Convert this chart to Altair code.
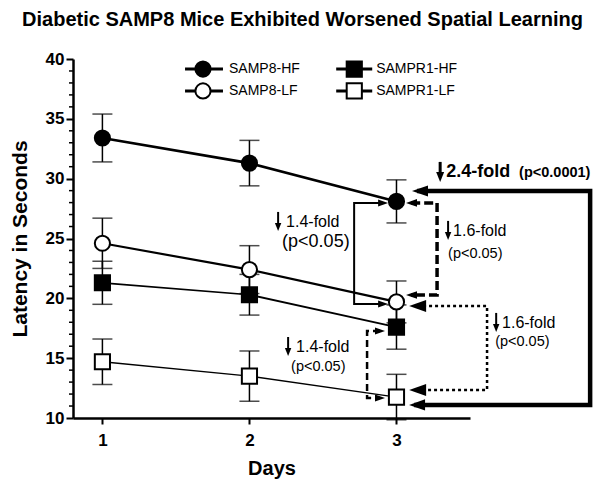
import altair as alt
import pandas as pd

F = "Liberation Sans"

# ---------------- data ----------------
days = [1, 2, 3]
series = ["SAMP8-HF", "SAMP8-LF", "SAMPR1-HF", "SAMPR1-LF"]
samp8_hf = [33.4, 31.3, 28.1]
samp8_lf = [24.6, 22.4, 19.7]
sampr1_hf = [21.3, 20.3, 17.6]
sampr1_lf = [14.7, 13.5, 11.75]
err_samp8_hf = [2.0, 1.9, 1.8]
err_samp8_lf = [2.1, 2.0, 1.75]
err_sampr1_hf = [1.8, 1.7, 1.85]
err_sampr1_lf = [1.9, 2.1, 1.9]
y_ticks = [10, 15, 20, 25, 30, 35, 40]
y_minor = [v for v in range(10, 41) if v % 5 != 0]
x_ticks = [1, 2, 3]
title_text = "Diabetic SAMP8 Mice Exhibited Worsened Spatial Learning"

means = [samp8_hf, samp8_lf, sampr1_hf, sampr1_lf]
errs = [err_samp8_hf, err_samp8_lf, err_sampr1_hf, err_sampr1_lf]

rows = []
for s, m_list, e_list in zip(series, means, errs):
    for d, m, e in zip(days, m_list, e_list):
        rows.append({"series": s, "day": d, "mean": m, "lo": m - e, "hi": m + e})
df = pd.DataFrame(rows)

# ---------------- scales ----------------
xs = alt.Scale(domain=[0.8, 3.5], nice=False, zero=False)
ys = alt.Scale(domain=[10, 40], nice=False, zero=False)
shape_scale = alt.Scale(domain=series, range=["circle", "circle", "square", "square"])
fill_scale = alt.Scale(domain=series, range=["black", "white", "black", "white"])
size_scale = alt.Scale(domain=series, range=[230, 230, 190, 190])
width_scale = alt.Scale(domain=series, range=[2.6, 1.3, 2.6, 1.3])

x_axis = alt.Axis(values=x_ticks, format="d", title="Days", grid=False,
                  domainColor="black", domainWidth=2.5, tickColor="black",
                  tickWidth=2, tickSize=6, labelFont=F, labelFontSize=17,
                  labelFontWeight="bold", labelColor="black", labelPadding=8,
                  titleFont=F, titleFontSize=20, titleFontWeight="bold",
                  titleColor="black", titlePadding=10)
y_axis = alt.Axis(values=y_ticks, format="d", title="Latency in Seconds",
                  grid=False, domainColor="black",
                  domainWidth=2.5, tickColor="black", tickWidth=2,
                  tickSize=7, labelFont=F, labelFontSize=17,
                  labelFontWeight="bold", labelColor="black",
                  labelPadding=2, titleFont=F, titleFontSize=21,
                  titleFontWeight="bold", titleColor="black",
                  titlePadding=15)


def X(field, axis=alt.Undefined):
    return alt.X(field, type="quantitative", scale=xs, axis=axis)


def Y(field, axis=alt.Undefined):
    return alt.Y(field, type="quantitative", scale=ys, axis=axis)


base = alt.Chart(df)

lines = base.mark_line(color="black").encode(
    x=X("day", x_axis), y=Y("mean", y_axis), detail="series:N",
    strokeWidth=alt.StrokeWidth("series:N", scale=width_scale, legend=None))

errbars = base.mark_errorbar(ticks=True, size=20, thickness=1.5, color="black",
                             orient="vertical").encode(
    x=X("day", x_axis), y=Y("lo", y_axis), y2="hi")

markers = base.mark_point(filled=True, stroke="black", strokeWidth=2, opacity=1).encode(
    x=X("day"), y=Y("mean"),
    shape=alt.Shape("series:N", scale=shape_scale, legend=None),
    fill=alt.Fill("series:N", scale=fill_scale, legend=None),
    size=alt.Size("series:N", scale=size_scale, legend=None))

# minor y ticks (axis decoration)
minor = alt.Chart(pd.DataFrame({"v": y_minor})).mark_rule(
    color="black", strokeWidth=1.5).encode(
    y=Y("v"), x=alt.value(-4), x2=alt.value(0))

# ---------------- hand-made legend (data units) ----------------
leg_col_marker = [1.684, 1.684, 2.713, 2.713]
leg_col_x1 = [1.562, 1.562, 2.590, 2.590]
leg_col_x2 = [1.820, 1.820, 2.835, 2.835]
leg_col_label = [1.861, 1.861, 2.862, 2.862]
leg_row_y = [39.16, 37.33, 39.16, 37.33]
leg = pd.DataFrame({"series": series, "xm": leg_col_marker, "x1": leg_col_x1,
                    "x2": leg_col_x2, "xl": leg_col_label, "y": leg_row_y})
lbase = alt.Chart(leg)
leg_lines = lbase.mark_rule(color="black", strokeWidth=3).encode(
    x=X("x1"), x2="x2", y=Y("y"))
leg_marks = lbase.mark_point(filled=True, stroke="black", strokeWidth=2, opacity=1).encode(
    x=X("xm"), y=Y("y"),
    shape=alt.Shape("series:N", scale=shape_scale, legend=None),
    fill=alt.Fill("series:N", scale=fill_scale, legend=None),
    size=alt.Size("series:N", scale=size_scale, legend=None))
leg_text = lbase.mark_text(align="left", baseline="middle", font=F, fontSize=14,
                           color="black").encode(x=X("xl"), y=Y("y"), text="series:N")

# ---------------- significance brackets (data units) ----------------
PATH_L = "M-1,0L1,-0.7L1,0.7Z"
PATH_R = "M1,0L-1,-0.7L-1,0.7Z"
PATH_D = "M0,1L-0.8,-1L0.8,-1Z"

brackets = [
    # path x, path y, stroke width, dash, arrow x, arrow y, arrow dir, arrow size
    ([3.14, 4.317, 4.317, 3.12], [28.97, 28.97, 11.09, 11.09], 4.5, None,
     [3.160, 3.140], [28.97, 11.09], PATH_L, 256),
    ([2.909, 2.712, 2.712, 2.909], [27.97, 27.97, 19.53, 19.53], 2, None,
     [2.909, 2.909], [27.97, 19.53], PATH_R, 100),
    ([3.10, 3.276, 3.276, 3.10], [27.97, 27.97, 20.28, 20.28], 3.5, [9, 4],
     [3.102, 3.102], [27.97, 20.28], PATH_L, 121),
    ([3.14, 3.616, 3.616, 3.14], [19.36, 19.36, 12.34, 12.34], 2.5, [3, 3],
     [3.144, 3.144], [19.36, 12.34], PATH_L, 289),
    ([2.888, 2.800, 2.800, 2.888], [17.27, 17.27, 11.67, 11.67], 2.5, [7, 4],
     [2.888, 2.888], [17.27, 11.67], PATH_R, 100),
]

bracket_layers = []
for bx, by, sw, dash, ax, ay, apath, asz in brackets:
    bdf = pd.DataFrame({"x": bx, "y": by, "o": list(range(len(bx)))})
    kw = {"color": "black", "strokeWidth": sw}
    if dash is not None:
        kw["strokeDash"] = dash
    bracket_layers.append(alt.Chart(bdf).mark_line(**kw).encode(
        x=X("x"), y=Y("y"), order="o:Q"))
    adf = pd.DataFrame({"x": ax, "y": ay})
    bracket_layers.append(alt.Chart(adf).mark_point(
        shape=apath, size=asz, filled=True, color="black", opacity=1,
        strokeWidth=0).encode(x=X("x"), y=Y("y")))

# ---------------- annotation text ----------------
note_text = ["2.4-fold", "(p<0.0001)",
             "1.4-fold", "(p<0.05)",
             "1.6-fold", "(p<0.05)",
             "1.6-fold", "(p<0.05)",
             "1.4-fold", "(p<0.05)"]
note_x = [3.338, 3.834, 2.249, 2.222, 3.385, 3.351, 3.718, 3.671, 2.317, 2.283]
note_y = [30.56, 30.51, 26.38, 24.71, 25.63, 23.70, 17.94, 16.35, 15.93, 14.26]
note_fs = [18, 14.5, 16, 18, 16, 14.5, 16, 14.5, 16, 14.5]
note_bold = [True, True, False, False, False, False, False, False, False, False]

note_layers = []
for t, x, y, fs, b in zip(note_text, note_x, note_y, note_fs, note_bold):
    ndf = pd.DataFrame({"t": [t], "x": [x], "y": [y]})
    kw = {"align": "left", "baseline": "middle", "font": F, "fontSize": fs,
          "color": "black"}
    if b:
        kw["fontWeight"] = "bold"
    note_layers.append(alt.Chart(ndf).mark_text(**kw).encode(
        x=X("x"), y=Y("y"), text="t:N"))

# small down arrows in front of each fold label (stem + head)
down_x = [3.297, 2.195, 3.351, 3.678, 2.263]
down_top = [31.40, 27.22, 26.47, 18.78, 16.77]
down_bot = [30.40, 26.21, 25.46, 17.77, 15.76]
down_head = [30.14, 25.96, 25.21, 17.52, 15.51]
down_w = [3, 2, 2, 2, 2]
down_sz = [100, 64, 64, 64, 64]
arrow_layers = []
for x, t, b, h, w, s in zip(down_x, down_top, down_bot, down_head, down_w, down_sz):
    sdf = pd.DataFrame({"x": [x], "y": [t], "y2": [b], "yh": [h]})
    arrow_layers.append(alt.Chart(sdf).mark_rule(color="black", strokeWidth=w).encode(
        x=X("x"), y=Y("y"), y2="y2"))
    arrow_layers.append(alt.Chart(sdf).mark_point(
        shape=PATH_D, size=s, filled=True, color="black", opacity=1,
        strokeWidth=0).encode(x=X("x"), y=Y("yh")))

chart = alt.layer(
    lines, errbars, minor, *bracket_layers, markers,
    leg_lines, leg_marks, leg_text, *note_layers, *arrow_layers
).properties(
    width=397, height=359,
    title=alt.TitleParams(text=title_text, font=F, fontSize=20, fontWeight="bold",
                          color="black", anchor="middle", frame="group",
                          dx=31, offset=20),
    autosize=alt.AutoSizeParams(type="none"),
    padding={"left": 65, "top": 51, "right": 124, "bottom": 62},
).configure_view(stroke=None)

chart.save("out.html", embed_options={"renderer": "svg", "actions": False})
